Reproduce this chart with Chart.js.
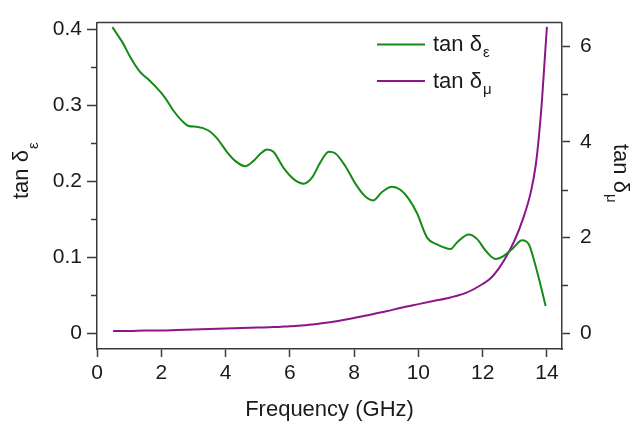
<!DOCTYPE html>
<html>
<head>
<meta charset="utf-8">
<title>tan delta vs frequency</title>
<script src="https://cdn.jsdelivr.net/npm/chart.js@4.4.1/dist/chart.umd.min.js"></script>
<style>
  html, body { margin: 0; padding: 0; background: #fff; }
  #wrap { width: 633px; height: 421px; }
</style>
</head>
<body>
<div id="wrap"><canvas id="lossChart" width="633" height="421"></canvas></div>
<script>
// Data
const freqEps = [0.48, 0.82, 1.03, 1.34, 1.55, 1.86, 2.12, 2.38, 2.64, 2.85, 3.10, 3.47, 3.73, 4.04, 4.30, 4.61, 4.87, 5.10, 5.29, 5.49,
                 5.80, 6.12, 6.43, 6.69, 6.95, 7.21, 7.41, 7.73, 8.04, 8.35, 8.59, 8.87, 9.18, 9.44, 9.70, 9.96, 10.27, 10.58,
                 11.00, 11.21, 11.57, 11.83, 12.09, 12.40, 12.66, 12.92, 13.23, 13.44, 13.64, 13.80, 13.96];
const tanEps = [0.403, 0.381, 0.364, 0.344, 0.336, 0.323, 0.310, 0.293, 0.280, 0.273, 0.272, 0.267, 0.257, 0.239, 0.227, 0.220, 0.227, 0.237, 0.242, 0.239,
                0.218, 0.203, 0.197, 0.205, 0.225, 0.239, 0.237, 0.220, 0.197, 0.180, 0.175, 0.186, 0.193, 0.189, 0.177, 0.158, 0.126, 0.117,
                0.111, 0.120, 0.130, 0.124, 0.109, 0.098, 0.102, 0.111, 0.1225, 0.117, 0.090, 0.064, 0.036];

const freqMu = [0.5, 1.0, 1.5, 2.0, 2.5, 3.0, 3.5, 4.0, 4.5, 5.0, 5.5, 6.0, 6.5, 7.0, 7.5, 8.0, 8.5, 9.0, 9.5, 10.0, 10.5, 11.0,
                11.5, 12.0, 12.25, 12.5, 12.75, 13.0, 13.25, 13.5, 13.65, 13.75, 13.85, 13.92, 14.0];
const tanMu = [0.05, 0.05, 0.06, 0.06, 0.07, 0.08, 0.09, 0.10, 0.11, 0.12, 0.13, 0.15, 0.17, 0.21, 0.26, 0.32, 0.39, 0.46, 0.54, 0.61, 0.68, 0.75,
               0.85, 1.03, 1.15, 1.35, 1.62, 1.95, 2.38, 2.95, 3.5, 4.1, 4.9, 5.6, 6.4];

const xTicks = [0, 2, 4, 6, 8, 10, 12, 14];
const yLeftTicks = [0, 0.05, 0.1, 0.15, 0.2, 0.25, 0.3, 0.35, 0.4];
const yRightTicks = [0, 1, 2, 3, 4, 5, 6];

// Styles
const FONT = "'Liberation Sans', Arial, sans-serif";
const AXIS = '#3a3a3a';
const TEXT = '#1a1a1a';
const GREEN = '#168a16';
const PURPLE = '#8a168a';

const isMajorLeft = v => Math.round(v * 100) % 10 === 0;
const isMajorRight = v => Math.round(v) % 2 === 0;

function drawMinorTicks(ctx, scale, values, x0, len) {
    values.forEach(v => {
        const y = Math.round(scale.getPixelForValue(v)) + 0.5;
        ctx.beginPath();
        ctx.moveTo(x0, y);
        ctx.lineTo(x0 + len, y);
        ctx.stroke();
    });
}

function drawSubText(ctx, main, sub, subDrop) {
    ctx.font = '22px ' + FONT;
    ctx.fillText(main, 0, 0);
    const w = ctx.measureText(main).width;
    ctx.font = '15px ' + FONT;
    ctx.fillText(sub, w + 1, subDrop);
}

// Frame, minor ticks, axis titles and legend
const decorPlugin = {
    id: 'decor',
    afterDraw(chart) {
        const { ctx, chartArea: a, scales } = chart;
        ctx.save();
        ctx.strokeStyle = AXIS;
        ctx.lineWidth = 1.5;
        ctx.beginPath();
        ctx.moveTo(a.left, a.top);
        ctx.lineTo(a.right, a.top);
        ctx.stroke();

        drawMinorTicks(ctx, scales.y, yLeftTicks.filter(v => !isMajorLeft(v)), a.left, -6);
        drawMinorTicks(ctx, scales.y1, yRightTicks.filter(v => !isMajorRight(v)), a.right, 6);

        ctx.fillStyle = TEXT;
        ctx.textBaseline = 'middle';
        ctx.textAlign = 'center';
        ctx.font = '22px ' + FONT;
        ctx.fillText('Frequency (GHz)', (a.left + a.right) / 2, 410);

        ctx.textAlign = 'left';
        ctx.textBaseline = 'alphabetic';

        // left title
        ctx.save();
        ctx.translate(28, 199);
        ctx.rotate(-Math.PI / 2);
        drawSubText(ctx, 'tan δ', 'ε', 10);
        ctx.restore();

        // right title
        ctx.save();
        ctx.translate(614, 144);
        ctx.rotate(Math.PI / 2);
        drawSubText(ctx, 'tan δ', 'μ', 7);
        ctx.restore();

        // legend
        const legend = [
            { color: GREEN, sub: 'ε', y: 44.5 },
            { color: PURPLE, sub: 'μ', y: 81 }
        ];
        legend.forEach(item => {
            ctx.strokeStyle = item.color;
            ctx.lineWidth = 2;
            ctx.beginPath();
            ctx.moveTo(377, item.y);
            ctx.lineTo(425, item.y);
            ctx.stroke();
            ctx.save();
            ctx.translate(433, item.y + 6.5);
            drawSubText(ctx, 'tan δ', item.sub, 6);
            ctx.restore();
        });
        ctx.restore();
    }
};

function initChart() {
    const ctx = document.getElementById('lossChart').getContext('2d');
    new Chart(ctx, {
        type: 'line',
        data: {
            datasets: [
                {
                    label: 'tan δε',
                    data: freqEps.map((f, i) => ({ x: f, y: tanEps[i] })),
                    borderColor: GREEN,
                    borderWidth: 2,
                    pointRadius: 0,
                    cubicInterpolationMode: 'monotone',
                    yAxisID: 'y'
                },
                {
                    label: 'tan δμ',
                    data: freqMu.map((f, i) => ({ x: f, y: tanMu[i] })),
                    borderColor: PURPLE,
                    borderWidth: 2,
                    pointRadius: 0,
                    cubicInterpolationMode: 'monotone',
                    yAxisID: 'y1'
                }
            ]
        },
        options: {
            responsive: false,
            animation: false,
            layout: { padding: { top: 15, left: 0, right: 0, bottom: 0 } },
            plugins: {
                legend: { display: false },
                tooltip: { enabled: false }
            },
            scales: {
                x: {
                    type: 'linear',
                    min: 0,
                    max: 14.47,
                    afterBuildTicks: s => { s.ticks = xTicks.map(v => ({ value: v })); },
                    afterFit: s => { s.height = 72; },
                    border: { color: AXIS, width: 1.5 },
                    grid: { drawOnChartArea: false, tickLength: 8, tickColor: AXIS, tickWidth: 1.5 },
                    ticks: { color: TEXT, font: { family: FONT, size: 21 }, padding: 4, maxRotation: 0 }
                },
                y: {
                    type: 'linear',
                    position: 'left',
                    min: -0.0206,
                    max: 0.409,
                    afterBuildTicks: s => { s.ticks = yLeftTicks.map(v => ({ value: v })); },
                    afterFit: s => { s.width = 97; },
                    border: { color: AXIS, width: 1.5 },
                    grid: {
                        drawOnChartArea: false,
                        tickLength: 10,
                        tickWidth: 1.5,
                        tickColor: c => (c.tick && isMajorLeft(c.tick.value)) ? AXIS : 'rgba(0,0,0,0)'
                    },
                    ticks: {
                        color: TEXT,
                        font: { family: FONT, size: 21 },
                        padding: 5,
                        callback: v => isMajorLeft(v) ? String(Math.round(v * 10) / 10) : ''
                    }
                },
                y1: {
                    type: 'linear',
                    position: 'right',
                    min: -0.327,
                    max: 6.49,
                    afterBuildTicks: s => { s.ticks = yRightTicks.map(v => ({ value: v })); },
                    afterFit: s => { s.width = 71; },
                    border: { color: AXIS, width: 1.5 },
                    grid: {
                        drawOnChartArea: false,
                        tickLength: 8,
                        tickWidth: 1.5,
                        tickColor: c => (c.tick && isMajorRight(c.tick.value)) ? AXIS : 'rgba(0,0,0,0)'
                    },
                    ticks: {
                        color: TEXT,
                        font: { family: FONT, size: 21 },
                        padding: 10,
                        callback: v => isMajorRight(v) ? String(v) : ''
                    }
                }
            }
        },
        plugins: [decorPlugin]
    });
}

window.addEventListener('DOMContentLoaded', initChart);
</script>
</body>
</html>
